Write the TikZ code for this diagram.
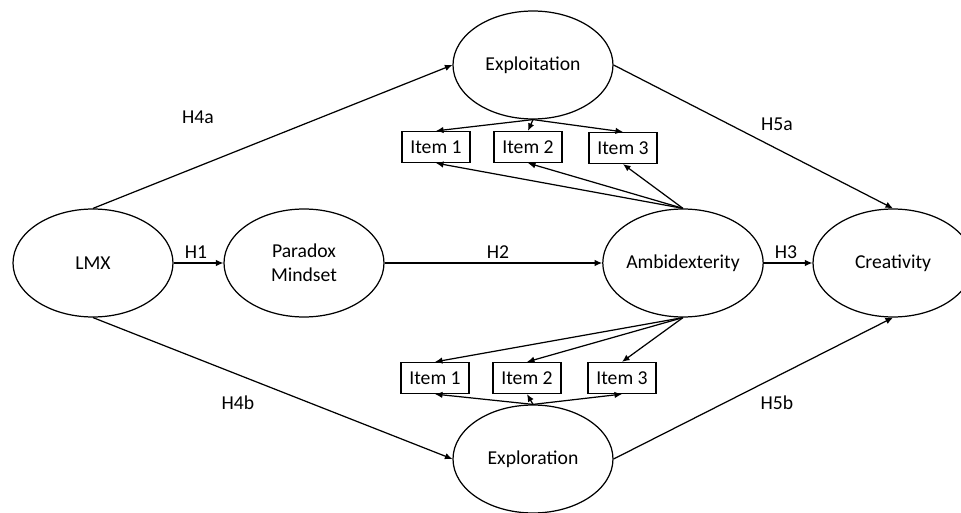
\documentclass[tikz,border=0pt]{standalone}
\usepackage{fontspec}
\setmainfont{Carlito}
\usetikzlibrary{arrows.meta,positioning,shapes.geometric}

\begin{document}
\begin{tikzpicture}[
  x=0.02cm, y=-0.02cm,
  latent/.style={draw, ellipse, line width=0.7pt, minimum width=3.2cm, minimum height=2.16cm, inner sep=0pt, align=center, font=\fontsize{11.2}{13.5}\selectfont},
  item/.style={draw, rectangle, line width=0.7pt, minimum width=1.36cm, minimum height=0.62cm, inner sep=0pt, font=\fontsize{11.2}{13.5}\selectfont},
  hyp/.style={font=\fontsize{11.2}{13.5}\selectfont},
  arrow/.style={-{Latex[length=1.5mm,width=1.3mm]}, line width=0.7pt}
]
\clip (0,0) rectangle (961,513);

% constructs
\node[latent] (lmx) at (93,263) {LMX};
\node[latent] (paradox) at (304,263) {Paradox\\Mindset};
\node[latent] (ambi) at (683,263) {Ambidexterity};
\node[latent] (creat) at (893,263) {Creativity};
\node[latent] (exploit) at (533,65) {Exploitation};
\node[latent] (explore) at (533,459) {Exploration};

% indicators
\node[item] (itA1) at (436,147) {Item 1};
\node[item] (itA2) at (528,147) {Item 2};
\node[item] (itA3) at (623,148) {Item 3};
\node[item] (itB1) at (435,378) {Item 1};
\node[item] (itB2) at (527,378) {Item 2};
\node[item] (itB3) at (622,378) {Item 3};

% structural paths
\draw[arrow] (lmx) -- (paradox);
\draw[arrow] (paradox) -- (ambi);
\draw[arrow] (ambi) -- (creat);
\draw[arrow] (lmx.north) -- (exploit.west);
\draw[arrow] (lmx.south) -- (explore.west);
\draw[arrow] (exploit.east) -- (creat.north);
\draw[arrow] (explore.east) -- (creat.south);

% measurement paths
\foreach \i in {itA1,itA2,itA3} {
  \draw[arrow] (exploit.south) -- (\i.north);
  \draw[arrow] (ambi.north) -- (\i.south);
}
\foreach \i in {itB1,itB2,itB3} {
  \draw[arrow] (ambi.south) -- (\i.north);
  \draw[arrow] (explore.north) -- (\i.south);
}

% hypothesis labels
\node[hyp] (h1) at (196,252) {H1};
\node[hyp] (h2) at (498,252) {H2};
\node[hyp] (h3) at (786,252) {H3};
\node[hyp] (h4a) at (198,117) {H4a};
\node[hyp] (h4b) at (238,403) {H4b};
\node[hyp] (h5a) at (777,124) {H5a};
\node[hyp] (h5b) at (777,403) {H5b};
\end{tikzpicture}
\end{document}
